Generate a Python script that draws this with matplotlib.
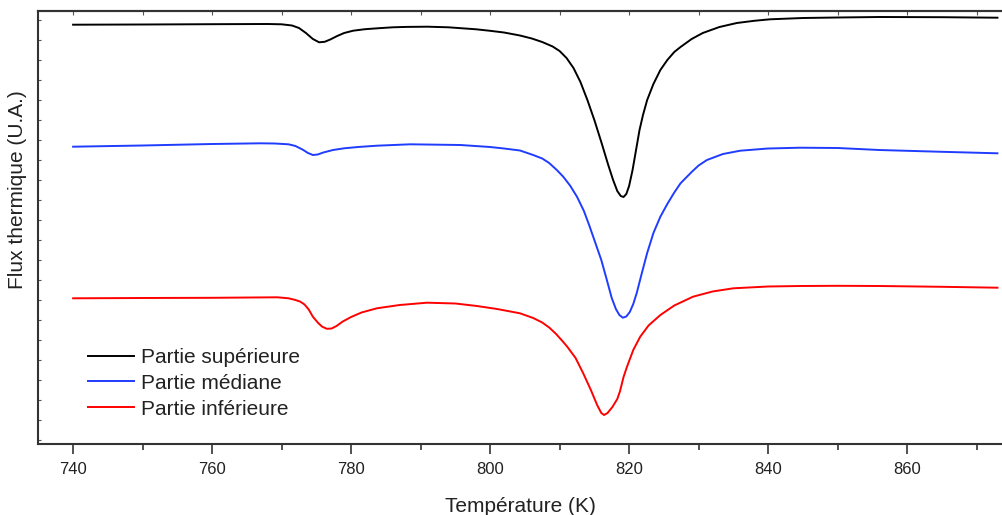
import matplotlib.pyplot as plt
from matplotlib.ticker import MultipleLocator, NullFormatter

# temperatures (K) and heat flux (arbitrary units, read downwards from the top)
t_sup = [740, 750, 760, 768, 770, 771.5, 772.5, 773.5, 774.5, 775.4, 776.2, 777, 778, 779,
         780.3, 782, 784, 786, 788, 791, 794, 798, 800, 802, 804.3, 806, 807.5, 809, 810,
         811, 812, 813, 814, 815, 816, 817, 817.7, 818.3, 818.8, 819.2, 819.6, 820, 820.5,
         821, 821.5, 822, 822.6, 823.5, 824.5, 825.5, 826.5, 827.4, 829, 830.6, 833, 835.5,
         838, 840.3, 845, 850, 856, 865, 873]
flux_sup = [24.7, 24.5, 24.2, 24, 24.3, 25.5, 28, 33, 39, 42.3, 41.8, 39.5, 36, 33,
            30.7, 29.2, 28.2, 27.3, 26.9, 26.7, 27.3, 29.3, 30.8, 32.5, 35.5, 38.5, 42, 46.5, 51,
            58, 68, 82, 100, 120, 142, 165, 180, 191, 196, 197, 194, 186, 170,
            150, 130, 115, 100, 84, 70, 60, 52, 47, 39, 33, 27, 23,
            20.8, 19.3, 18, 17.5, 17, 17.2, 17.7]

t_med = [740, 750, 760, 767, 769, 771, 772, 773, 773.8, 774.5, 775.2, 776, 777.4, 779, 781,
         783.7, 788.5, 795.7, 800, 802, 804.3, 806.2, 807.5, 808.5, 809.6, 810.5, 811.5, 812.5,
         813.5, 814.3, 815, 816, 816.8, 817.5, 818.1, 818.6, 819.1, 819.6, 820.1, 820.6, 821.1,
         821.8, 822.6, 823.5, 824.5, 825.5, 826.5, 827.4, 829, 830, 831.2, 833.5, 836, 840,
         844.6, 850, 856, 865, 873]
flux_med = [146.7, 145.5, 144, 143.3, 143.5, 144.3, 146, 149.5, 153, 155, 154.5, 152.5, 150,
            148.3, 147, 145.7, 144.3, 145, 147, 148.5, 150.5, 155, 158.5, 163, 170, 176.5,
            185.5, 196.7, 211, 226, 240, 260, 280, 298, 309, 315, 317.7, 316.5, 312, 304, 293,
            274, 253, 233, 216.7, 204, 192.5, 183.3, 172, 165.5, 160, 154, 150.7, 148.5,
            147.7, 148, 150, 151.8, 153.3]

t_inf = [740, 750, 760, 769.4, 771, 772, 772.7, 773.3, 773.9, 774.5, 775.2, 775.8, 776.5,
         777.2, 777.9, 778.8, 780, 781.5, 783.7, 787, 790.9, 795, 798.1, 801, 804.3, 806.2,
         807.5, 808.5, 809.5, 810.4, 811.1, 812.3, 813.4, 814.5, 815.4, 816, 816.4, 816.9,
         817.6, 818.3, 818.7, 819.2, 819.7, 820.6, 821.6, 822.8, 824.5, 826.5, 829.2, 832,
         835, 840, 844.6, 850, 856, 865, 873]
flux_inf = [298.3, 298, 297.8, 297.3, 298.3, 300, 301.7, 304.5, 309.5, 316.7, 322.5, 326.5,
            328.8, 328.5, 326, 321.5, 317, 312.5, 308.3, 305, 302.7, 303.5, 306, 309, 313.3,
            318, 322.5, 327.5, 334, 341, 346.7, 358, 373.3, 390, 405, 413, 415, 413,
            407, 399, 391, 377, 366.7, 350, 336.7, 325.5, 315, 305.5, 296.7, 291.5,
            288.3, 286.5, 286, 285.8, 286, 286.8, 287.7]

labels = ['Partie supérieure', 'Partie médiane', 'Partie inférieure']
colors = ['#000000', '#1f3cff', '#ff0000']

plt.rcParams['font.family'] = ['Liberation Sans', 'DejaVu Sans']

fig = plt.figure(figsize=(10.02, 5.15), dpi=100)
ax = fig.add_axes([38 / 1002, 71 / 515, 965 / 1002, 433 / 515])

for t, f, lab, c in zip([t_sup, t_med, t_inf], [flux_sup, flux_med, flux_inf], labels, colors):
    ax.plot(t, f, color=c, lw=1.4, label=lab, solid_joinstyle='round')

ax.set_xlim(734.95, 873.8)
ax.set_ylim(444, 11)

ax.xaxis.set_major_locator(MultipleLocator(20))
ax.xaxis.set_minor_locator(MultipleLocator(10))
ax.tick_params(axis='x', which='major', direction='out', length=7, width=1.2,
               labelsize=12, pad=6, color='#333333', labelcolor='#222222')
ax.tick_params(axis='x', which='minor', direction='out', length=4, width=1.2, color='#333333')

ax.yaxis.set_major_locator(MultipleLocator(100))
ax.yaxis.set_minor_locator(MultipleLocator(20))
ax.yaxis.set_major_formatter(NullFormatter())
ax.tick_params(axis='y', which='both', direction='in', length=2, width=0.8, color='#555555')

# small ticks along the top frame
top = ax.secondary_xaxis('top')
top.xaxis.set_major_locator(MultipleLocator(10))
top.tick_params(direction='in', length=3, width=0.8, labeltop=False, color='#555555')
top.spines['top'].set_linewidth(1.5)
top.spines['top'].set_color('#333333')

for side in ['left', 'bottom', 'top']:
    ax.spines[side].set_linewidth(1.5)
    ax.spines[side].set_color('#333333')
ax.spines['right'].set_visible(False)

ax.set_xlabel('Température (K)', fontsize=15, color='#222222')
ax.xaxis.set_label_coords(0.5, -0.122)
ax.set_ylabel('Flux thermique (U.A.)', fontsize=15, color='#222222')
ax.yaxis.set_label_coords(-0.011, 0.587)

ax.legend(loc='upper left', bbox_to_anchor=(0.052, 0.222), frameon=False, fontsize=15,
          handlelength=2.2, handletextpad=0.35, labelspacing=0.33, borderpad=0, borderaxespad=0,
          labelcolor='#222222')

fig.savefig('out.png', dpi=100)
